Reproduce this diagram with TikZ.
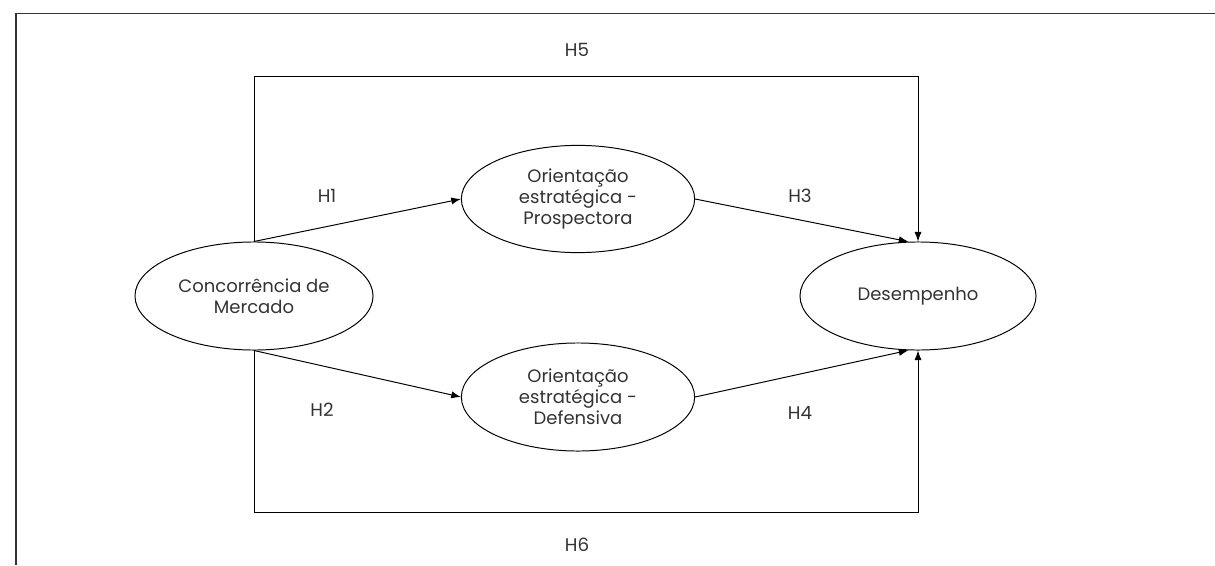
\documentclass[tikz,border=0pt]{standalone}
\usepackage{fontspec}
\setmainfont{Poppins}
\usetikzlibrary{shapes.geometric,arrows.meta}

\begin{document}
\begin{tikzpicture}[x=0.025cm,y=-0.025cm]
        \useasboundingbox (0,0) rectangle (1215,565);
        \draw[line width=1.1pt, black!80] (16,565) -- (16,13.5) -- (1215,13.5);
        \begin{scope}[every node/.style={draw, ellipse, line width=0.7pt, inner sep=0, align=center, text=black!80, font=\fontsize{12.8}{15}\selectfont}]
                \node[minimum width=5.95cm, minimum height=2.7cm] (CM) at (254,296) {Concorrência de\\Mercado};
                \node[minimum width=5.83cm, minimum height=2.68cm] (PR) at (578,199) {Orientação\\estratégica -\\Prospectora};
                \node[minimum width=5.83cm, minimum height=2.7cm] (DF) at (578,397) {Orientação\\estratégica -\\Defensiva};
                \node[minimum width=5.9cm, minimum height=2.7cm] (DE) at (918,296) {Desempenho};
        \end{scope}
        \begin{scope}[every node/.style={text=black!80, font=\fontsize{13}{15}\selectfont}, every path/.style={line width=0.7pt, -{Latex[length=2.4mm,width=1.8mm]}}]
                \path (CM.north) edge (PR.west);
                \path (CM.south) edge (DF.west);
                \path (PR.east) edge (DE.100);
                \path (DF.east) edge (DE.260);
                \draw (CM.north) -- ++(0,-165) -| (DE.north);
                \draw (CM.south) -- ++(0,162) -| (DE.south);
                \node (H1) at (327,196) {H1};
                \node (H2) at (322,410) {H2};
                \node (H3) at (800,196) {H3};
                \node (H4) at (800,413) {H4};
                \node (H5) at (577,50) {H5};
                \node (H6) at (577,545) {H6};
        \end{scope}
\end{tikzpicture}
\end{document}
